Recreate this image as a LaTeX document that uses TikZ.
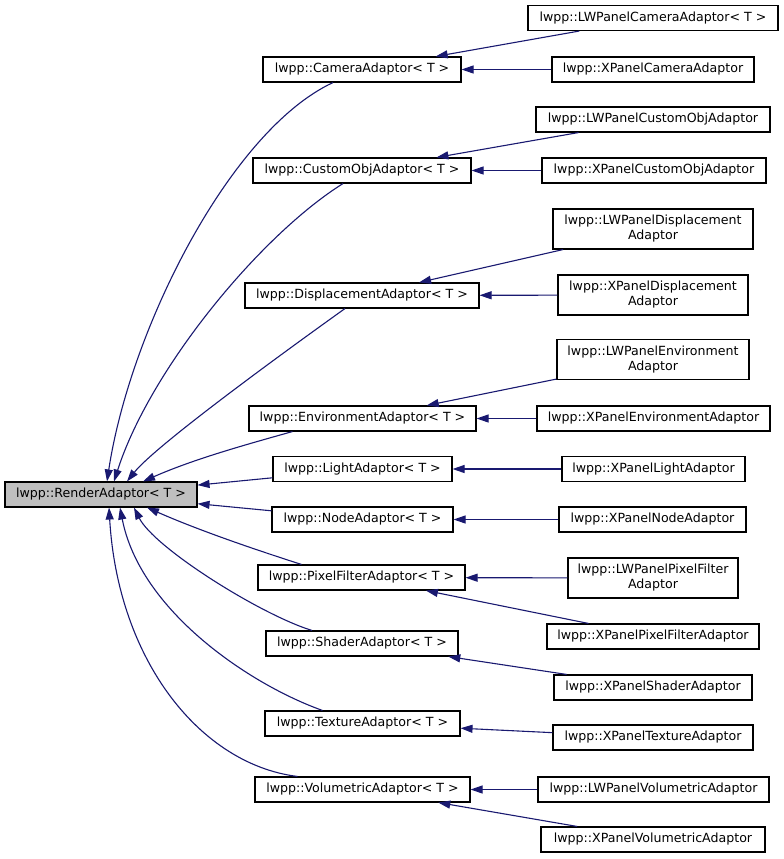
\documentclass[tikz,border=0pt]{standalone}
\usepackage{fontspec}
\setmainfont{DejaVu Sans}
\usetikzlibrary{arrows.meta}
\definecolor{edgeblue}{HTML}{191970}
\definecolor{basegray}{HTML}{BFBFBF}

\begin{document}
\begin{tikzpicture}[x=1pt,y=-1pt,
        cls/.style={draw=black,line width=1.1pt,minimum height=25pt,inner sep=1pt,align=center,
            font=\fontsize{12.6}{15}\selectfont},
        twoline/.style={cls,minimum height=40pt},
        basecls/.style={cls,fill=basegray},
        edge/.style={draw=edgeblue,line width=1.1pt,-{Triangle[length=12pt,width=8pt]}}]
    \useasboundingbox (0,0) rectangle (784,859);

    % Base class
    \node[basecls,minimum width=192pt] (render) at (101,494.5) {lwpp::RenderAdaptor< T >};

    % Middle column
    \node[cls,minimum width=198pt] (camera) at (362,69.5) {lwpp::CameraAdaptor< T >};
    \node[cls,minimum width=218pt] (customobj) at (362,170.5) {lwpp::CustomObjAdaptor< T >};
    \node[cls,minimum width=234pt] (displacement) at (362,295.5) {lwpp::DisplacementAdaptor< T >};
    \node[cls,minimum width=227pt] (environment) at (362.5,418.5) {lwpp::EnvironmentAdaptor< T >};
    \node[cls,minimum width=179pt] (light) at (362.5,469) {lwpp::LightAdaptor< T >};
    \node[cls,minimum width=181pt] (node) at (362.5,519.5) {lwpp::NodeAdaptor< T >};
    \node[cls,minimum width=207pt] (pixelfilter) at (361.5,577.5) {lwpp::PixelFilterAdaptor< T >};
    \node[cls,minimum width=192pt] (shader) at (362,643.5) {lwpp::ShaderAdaptor< T >};
    \node[cls,minimum width=195pt] (texture) at (362.5,723.5) {lwpp::TextureAdaptor< T >};
    \node[cls,minimum width=215pt] (volumetric) at (362.5,789.5) {lwpp::VolumetricAdaptor< T >};

    % Right column
    \node[cls,minimum width=250pt] (lwcamera) at (653,18) {lwpp::LWPanelCameraAdaptor< T >};
    \node[cls,minimum width=202pt] (xcamera) at (653,69.5) {lwpp::XPanelCameraAdaptor};
    \node[cls,minimum width=234pt] (lwcustomobj) at (653,119.5) {lwpp::LWPanelCustomObjAdaptor};
    \node[cls,minimum width=224pt] (xcustomobj) at (654,170.5) {lwpp::XPanelCustomObjAdaptor};
    \node[twoline,minimum width=200pt] (lwdisplacement) at (653,229) {lwpp::LWPanelDisplacement\\Adaptor};
    \node[twoline,minimum width=190pt] (xdisplacement) at (653,295) {lwpp::XPanelDisplacement\\Adaptor};
    \node[twoline,minimum width=192pt] (lwenvironment) at (653,359.5) {lwpp::LWPanelEnvironment\\Adaptor};
    \node[cls,minimum width=233pt] (xenvironment) at (653.5,418.5) {lwpp::XPanelEnvironmentAdaptor};
    \node[cls,minimum width=183pt] (xlight) at (653.5,469) {lwpp::XPanelLightAdaptor};
    \node[cls,minimum width=187pt] (xnode) at (652.5,519.5) {lwpp::XPanelNodeAdaptor};
    \node[twoline,minimum width=170pt] (lwpixelfilter) at (653,578) {lwpp::LWPanelPixelFilter\\Adaptor};
    \node[cls,minimum width=212pt] (xpixelfilter) at (653,636.5) {lwpp::XPanelPixelFilterAdaptor};
    \node[cls,minimum width=198pt] (xshader) at (653,687.5) {lwpp::XPanelShaderAdaptor};
    \node[cls,minimum width=200pt] (xtexture) at (653,737.5) {lwpp::XPanelTextureAdaptor};
    \node[cls,minimum width=231pt] (lwvolumetric) at (653.5,789.5) {lwpp::LWPanelVolumetricAdaptor};
    \node[cls,minimum width=224pt] (xvolumetric) at (653,839.5) {lwpp::XPanelVolumetricAdaptor};

    % Straight edges, child to parent
    \foreach \child/\parent in {lwcamera/camera,xcamera/camera,lwcustomobj/customobj,xcustomobj/customobj,
        lwdisplacement/displacement,xdisplacement/displacement,lwenvironment/environment,xenvironment/environment,
        xlight/light,xnode/node,lwpixelfilter/pixelfilter,xpixelfilter/pixelfilter,xshader/shader,
        xtexture/texture,lwvolumetric/volumetric,xvolumetric/volumetric,light/render,node/render}
    {
        \draw[edge] (\child) -- (\parent);
    }

    % Curved edges down into the base class
    \draw[edge] ([xshift=-29pt]camera.south) .. controls +(-103,48) and +(23,-152) .. ([xshift=6pt]render.north);
    \draw[edge] ([xshift=-19pt]customobj.south) .. controls +(-83,52) and +(36,-112) .. ([xshift=13pt]render.north);
    \draw[edge] ([xshift=-17pt]displacement.south) .. controls +(-70,50) and +(28,-35) .. ([xshift=26pt]render.north);
    \draw[edge] ([xshift=-70pt]environment.south) .. controls +(-50,14) and +(50,-22) .. ([xshift=42pt]render.north);

    % Curved edges up into the base class
    \draw[edge] ([xshift=-60pt]pixelfilter.north) .. controls +(-50,-16) and +(50,22) .. ([xshift=46pt]render.south);
    \draw[edge] ([xshift=-50pt]shader.north) .. controls +(-52,-16) and +(20,40) .. ([xshift=33pt]render.south);
    \draw[edge] ([xshift=-40pt]texture.north) .. controls +(-73,-26) and +(20,103) .. ([xshift=19pt]render.south);
    \draw[edge] ([xshift=-65pt]volumetric.north) .. controls +(-97,-12) and +(9,153) .. ([xshift=8pt]render.south);
\end{tikzpicture}
\end{document}
